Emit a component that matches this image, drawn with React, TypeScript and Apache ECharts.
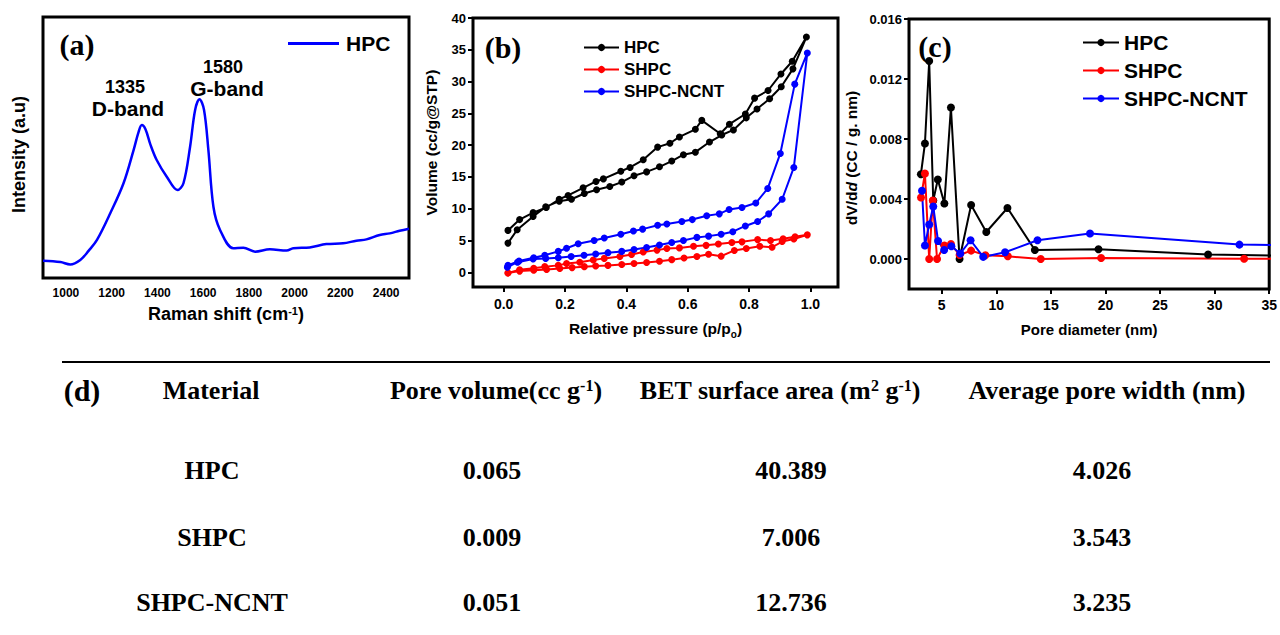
import React, { useEffect, useRef } from 'react';
import * as echarts from 'echarts';

// ---------- (a) Raman ----------
const ramanShift = [900, 976, 1019, 1063, 1100, 1136, 1194, 1252, 1296, 1318, 1332, 1348, 1370, 1397, 1441, 1488, 1514, 1543, 1565, 1584, 1604, 1623, 1645, 1674, 1732, 1776, 1827, 1892, 1965, 1994, 2066, 2139, 2212, 2270, 2314, 2372, 2416, 2459, 2500];
const ramanIntensity = [6.6, 6.1, 5.2, 6.9, 10.5, 14.6, 24.8, 36.3, 49.0, 56.0, 58.6, 57.0, 51.0, 45.2, 38.8, 33.7, 36.3, 50.3, 64.4, 68.5, 64.4, 49.0, 27.3, 18.4, 11.4, 11.6, 10.1, 11.0, 10.5, 11.4, 11.7, 13.0, 13.3, 14.3, 14.8, 16.5, 17.1, 18.1, 18.9];
const ramanTicks = [1000, 1200, 1400, 1600, 1800, 2000, 2200, 2400];

// ---------- (b) isotherms (adsorption then desorption) ----------
const hpcP = [0.014, 0.044, 0.096, 0.137, 0.181, 0.221, 0.263, 0.303, 0.346, 0.385, 0.425, 0.466, 0.508, 0.548, 0.586, 0.625, 0.671, 0.711, 0.749, 0.791, 0.826, 0.867, 0.905, 0.943, 0.987,
  0.941, 0.904, 0.862, 0.818, 0.788, 0.736, 0.706, 0.646, 0.625, 0.573, 0.542, 0.502, 0.455, 0.412, 0.382, 0.325, 0.301, 0.259, 0.21, 0.181, 0.139, 0.096, 0.052, 0.014];
const hpcV = [4.6, 6.7, 8.8, 10.3, 11.2, 11.5, 12.4, 13.0, 13.5, 14.2, 15.2, 15.8, 16.6, 17.5, 18.5, 18.9, 20.5, 21.6, 22.4, 24.3, 25.7, 27.3, 29.2, 32.0, 37.0,
  33.2, 31.2, 28.6, 27.4, 24.9, 23.3, 21.8, 23.9, 22.5, 21.3, 20.3, 19.7, 17.7, 16.5, 15.9, 14.7, 14.3, 13.3, 12.1, 11.5, 10.2, 9.4, 8.3, 6.6];
const shpcP = [0.014, 0.052, 0.098, 0.14, 0.183, 0.223, 0.263, 0.30, 0.34, 0.385, 0.425, 0.466, 0.508, 0.548, 0.588, 0.63, 0.668, 0.709, 0.752, 0.791, 0.835, 0.875, 0.908, 0.946, 0.99,
  0.95, 0.911, 0.87, 0.828, 0.777, 0.744, 0.70, 0.66, 0.619, 0.573, 0.532, 0.50, 0.455, 0.417, 0.379, 0.328, 0.292, 0.248, 0.205, 0.178, 0.134, 0.098, 0.052, 0.014];
const shpcV = [-0.1, 0.2, 0.35, 0.45, 0.6, 0.75, 0.9, 1.0, 1.1, 1.25, 1.4, 1.55, 1.75, 2.0, 2.25, 2.5, 2.85, 2.55, 3.45, 3.75, 4.1, 3.95, 4.85, 5.25, 5.9,
  5.6, 5.3, 5.0, 5.15, 4.8, 4.7, 4.45, 4.25, 4.1, 3.85, 3.75, 3.5, 3.2, 2.8, 2.5, 2.2, 1.95, 1.6, 1.4, 1.1, 0.9, 0.65, 0.4, -0.1];
const ncntP = [0.012, 0.045, 0.096, 0.137, 0.178, 0.22, 0.262, 0.30, 0.34, 0.385, 0.425, 0.466, 0.508, 0.548, 0.586, 0.63, 0.668, 0.709, 0.747, 0.788, 0.828, 0.864, 0.908, 0.946, 0.99,
  0.949, 0.902, 0.861, 0.822, 0.777, 0.735, 0.703, 0.662, 0.615, 0.581, 0.532, 0.502, 0.453, 0.423, 0.382, 0.328, 0.295, 0.243, 0.205, 0.178, 0.134, 0.098, 0.05, 0.014];
const ncntV = [0.8, 1.6, 2.1, 2.2, 2.3, 2.5, 2.7, 2.9, 3.1, 3.3, 3.6, 3.9, 4.3, 4.7, 5.0, 5.5, 5.7, 6.0, 6.4, 7.3, 8.0, 9.2, 11.5, 16.5, 34.5,
  29.6, 18.7, 13.2, 10.9, 10.2, 9.9, 9.2, 8.9, 8.3, 8.0, 7.6, 7.4, 6.8, 6.5, 6.0, 5.4, 5.0, 4.5, 3.8, 3.3, 2.7, 2.3, 1.8, 1.1];
const pressureTicks = [0, 0.2, 0.4, 0.6, 0.8, 1.0];
const volumeTicks = [0, 5, 10, 15, 20, 25, 30, 35, 40];

// ---------- (c) pore size distribution ----------
const hpcD = [3.09, 3.46, 3.85, 4.22, 4.64, 5.24, 5.84, 6.63, 7.69, 9.08, 11.02, 13.53, 19.36, 29.4, 38];
const hpcDV = [0.00565, 0.0077, 0.0132, 0.0039, 0.0053, 0.0037, 0.0101, 0.0, 0.0036, 0.0018, 0.0034, 0.0006, 0.00065, 0.0003, 0.0002];
const shpcD = [3.1, 3.46, 3.85, 4.18, 4.57, 5.24, 5.84, 6.63, 7.69, 9.0, 11.05, 14.07, 19.6, 32.7, 38];
const shpcDV = [0.0041, 0.0057, 0.0, 0.0039, 0.0, 0.0009, 0.001, 0.00027, 0.00056, 0.00025, 0.00018, 0.0, 0.00007, 0.00002, 0.0];
const ncntD = [3.19, 3.46, 3.85, 4.22, 4.66, 5.22, 5.88, 6.7, 7.64, 8.8, 10.8, 13.77, 18.58, 32.27, 38];
const ncntDV = [0.00455, 0.0009, 0.0023, 0.0035, 0.0012, 0.0006, 0.00085, 0.00037, 0.00125, 0.00014, 0.00045, 0.00125, 0.0017, 0.00096, 0.0009];
const diameterTicks = [5, 10, 15, 20, 25, 30, 35];
const dvTicks = [0, 0.004, 0.008, 0.012, 0.016];

// ---------- (d) table ----------
const tableHeaders = ['Material', 'Pore volume(cc g{sup|-1})', 'BET surface area (m{sup|2} g{sup|-1})', 'Average pore width (nm)'];
const materials = ['HPC', 'SHPC', 'SHPC-NCNT'];
const poreVolume = ['0.065', '0.009', '0.051'];
const betArea = ['40.389', '7.006', '12.736'];
const poreWidth = ['4.026', '3.543', '3.235'];

const SANS = "'Liberation Sans', Arial, sans-serif";
const SERIF = "'Liberation Serif', 'Times New Roman', serif";

const zip = (xs: number[], ys: number[]) => xs.map((x, i) => [x, ys[i]]);

export default function App() {
  const ref = useRef<HTMLDivElement>(null);
  useEffect(() => {
    if (!ref.current) return;
    const chart = echarts.init(ref.current, undefined, { renderer: 'svg' });

    const lbl = (size: number) => ({ fontFamily: SANS, fontWeight: 'bold' as const, fontSize: size, color: '#000' });
    const nameStyle = (size: number, padding: number[] = [0, 0, 0, 0]) => ({
      fontFamily: SANS, fontWeight: 'bold' as const, fontSize: size, color: '#000', padding,
      rich: {
        sup: { fontFamily: SANS, fontWeight: 'bold', fontSize: Math.round(size * 0.62), color: '#000', verticalAlign: 'top', lineHeight: size },
        sub: { fontFamily: SANS, fontWeight: 'bold', fontSize: Math.round(size * 0.62), color: '#000', verticalAlign: 'bottom', lineHeight: size + 6 },
        it: { fontFamily: SANS, fontWeight: 'bold', fontStyle: 'italic', fontSize: size, color: '#000' },
      },
    });
    const noLine = { show: false, onZero: false };
    const tick = (vals: number[], show = true) => ({ show, customValues: vals, length: 5, inside: false, lineStyle: { color: '#000', width: 2 } });
    const legendFmt = (n: string) => n.slice(2);

    const sym = (color: string, size: number, name: string, data: number[][], xi: number) => ({
      type: 'line', name, xAxisIndex: xi, yAxisIndex: xi, data,
      symbol: 'circle', symbolSize: size, showSymbol: true, clip: true,
      lineStyle: { color, width: 2 }, itemStyle: { color },
    });

    const headerX = [211, 496, 780, 1107];
    const colX = [212, 492, 791, 1102];
    const rowY = [470, 537, 602];
    const tRich = {
      sup: { fontFamily: SERIF, fontWeight: 'bold', fontSize: 16, fill: '#000', verticalAlign: 'top', lineHeight: 26 },
    };
    const tableTexts: any[] = [];
    tableHeaders.forEach((h, i) => {
      tableTexts.push({ type: 'text', x: headerX[i], y: 390, style: { text: h, fontFamily: SERIF, fontWeight: 'bold', fontSize: 26, fill: '#000', align: 'center', verticalAlign: 'middle', rich: tRich } });
    });
    const cols = [materials, poreVolume, betArea, poreWidth];
    cols.forEach((col, ci) => col.forEach((v, ri) => {
      tableTexts.push({ type: 'text', x: colX[ci], y: rowY[ri], style: { text: v, fontFamily: SERIF, fontWeight: 'bold', fontSize: 26, fill: '#000', align: 'center', verticalAlign: 'middle' } });
    }));

    const panelLabel = (t: string, x: number, y: number, size = 30) => ({
      type: 'text', x, y, style: { text: t, fontFamily: SERIF, fontWeight: 'bold', fontSize: size, fill: '#000', align: 'center', verticalAlign: 'middle' },
    });
    const annot = (t: string, x: number, y: number, size: number) => ({
      type: 'text', x, y, style: { text: t, fontFamily: SANS, fontWeight: 'bold', fontSize: size, fill: '#000', align: 'center', verticalAlign: 'middle' },
    });

    chart.setOption({
      animation: false,
      backgroundColor: '#fff',
      grid: [
        { left: 43, top: 17, width: 366, height: 261, show: true, borderColor: '#000', borderWidth: 3 },
        { left: 473, top: 18, width: 365, height: 269, show: true, borderColor: '#000', borderWidth: 3 },
        { left: 909, top: 19, width: 366, height: 270, show: true, borderColor: '#000', borderWidth: 3 },
      ],
      xAxis: [
        {
          gridIndex: 0, type: 'value', min: 900, max: 2500,
          axisLine: noLine, splitLine: { show: false },
          axisTick: tick(ramanTicks, false),
          axisLabel: { ...lbl(12), customValues: ramanTicks, margin: 9, formatter: (v: number) => String(v) },
          name: 'Raman shift (cm{sup|-1})', nameLocation: 'middle', nameGap: 27, nameTextStyle: nameStyle(18),
        },
        {
          gridIndex: 1, type: 'value', min: -0.1, max: 1.09,
          axisLine: noLine, splitLine: { show: false },
          axisTick: tick(pressureTicks),
          axisLabel: { ...lbl(14), customValues: pressureTicks, margin: 10, formatter: (v: number) => v.toFixed(1) },
          name: 'Relative pressure (p/p{sub|o})', nameLocation: 'middle', nameGap: 31, nameTextStyle: nameStyle(15.5),
        },
        {
          gridIndex: 2, type: 'value', min: 2, max: 35,
          axisLine: noLine, splitLine: { show: false },
          axisTick: tick(diameterTicks),
          axisLabel: { ...lbl(14), customValues: diameterTicks, margin: 9, formatter: (v: number) => String(v) },
          name: 'Pore diameter (nm)', nameLocation: 'middle', nameGap: 33, nameTextStyle: nameStyle(15),
        },
      ],
      yAxis: [
        {
          gridIndex: 0, type: 'value', min: 0, max: 100,
          axisLine: noLine, splitLine: { show: false }, axisTick: { show: false }, axisLabel: { show: false },
          name: 'Intensity (a.u)', nameLocation: 'middle', nameGap: 15, nameTextStyle: nameStyle(18, [0, 14, 0, 0]),
        },
        {
          gridIndex: 1, type: 'value', min: -2.3, max: 40,
          axisLine: noLine, splitLine: { show: false },
          axisTick: tick(volumeTicks),
          axisLabel: { ...lbl(13), customValues: volumeTicks, margin: 7, formatter: (v: number) => String(v) },
          name: 'Volume (cc/g@STP)', nameLocation: 'middle', nameGap: 34, nameTextStyle: nameStyle(15.5, [0, 0, 0, 20]),
        },
        {
          gridIndex: 2, type: 'value', min: -0.002, max: 0.016,
          axisLine: noLine, splitLine: { show: false },
          axisTick: tick(dvTicks),
          axisLabel: { ...lbl(13), customValues: dvTicks, margin: 7, formatter: (v: number) => v.toFixed(3) },
          name: 'dV/d{it|d} (CC / g. nm)', nameLocation: 'middle', nameGap: 50, nameTextStyle: nameStyle(15.5, [0, 8, 0, 0]),
        },
      ],
      legend: [
        {
          left: 288, top: 33, orient: 'vertical', padding: 0, data: [{ name: 'a:HPC', icon: 'rect' }], itemWidth: 51, itemHeight: 3,
          formatter: legendFmt, textStyle: { ...lbl(21), padding: [0, 0, 0, 2] }, selectedMode: false,
        },
        {
          left: 583, top: 39, orient: 'vertical', padding: 0, data: ['b:HPC', 'b:SHPC', 'b:SHPC-NCNT'], itemWidth: 35, itemHeight: 9, itemGap: 5,
          formatter: legendFmt, textStyle: lbl(17), selectedMode: false,
        },
        {
          left: 1082, top: 32, orient: 'vertical', padding: 0, data: ['c:HPC', 'c:SHPC', 'c:SHPC-NCNT'], itemWidth: 36, itemHeight: 9, itemGap: 7,
          formatter: legendFmt, textStyle: lbl(21), selectedMode: false,
        },
      ],
      series: [
        {
          type: 'line', name: 'a:HPC', xAxisIndex: 0, yAxisIndex: 0, data: zip(ramanShift, ramanIntensity),
          smooth: 0.35, symbol: 'none', showSymbol: false, lineStyle: { color: '#0000ff', width: 2.5 }, itemStyle: { color: '#0000ff' },
        },
        sym('#000000', 7, 'b:HPC', zip(hpcP, hpcV), 1),
        sym('#ff0000', 7, 'b:SHPC', zip(shpcP, shpcV), 1),
        sym('#0000ff', 7, 'b:SHPC-NCNT', zip(ncntP, ncntV), 1),
        sym('#000000', 8, 'c:HPC', zip(hpcD, hpcDV), 2),
        sym('#ff0000', 8, 'c:SHPC', zip(shpcD, shpcDV), 2),
        sym('#0000ff', 8, 'c:SHPC-NCNT', zip(ncntD, ncntDV), 2),
      ],
      graphic: [
        panelLabel('(a)', 77, 44),
        panelLabel('(b)', 503, 47),
        panelLabel('(c)', 935, 46),
        annot('1335', 125, 87, 18),
        annot('D-band', 128, 108, 21),
        annot('1580', 223, 67, 18),
        annot('G-band', 227, 88, 21),
        { type: 'line', shape: { x1: 62, y1: 362, x2: 1270, y2: 362 }, style: { stroke: '#000', lineWidth: 2 } },
        panelLabel('(d)', 82, 390, 30),
        ...tableTexts,
      ],
    });
    return () => chart.dispose();
  }, []);
  return <div ref={ref} style={{ position: 'absolute', left: 0, top: 0, width: 1280, height: 635 }} />;
}
